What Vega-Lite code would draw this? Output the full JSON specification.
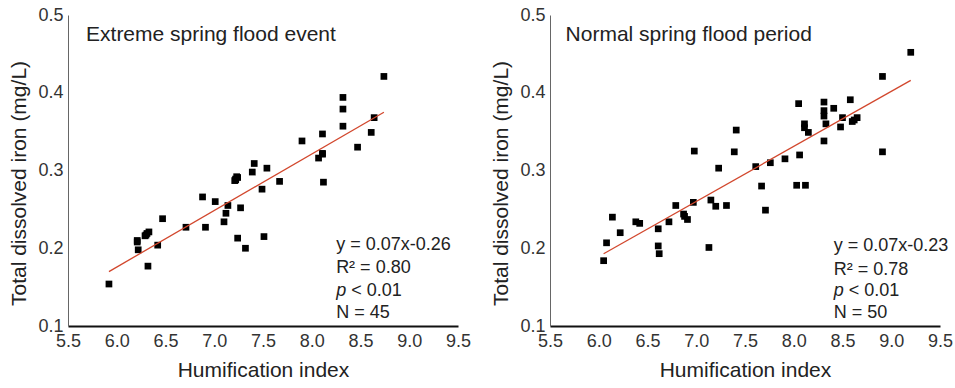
{
  "$schema": "https://vega.github.io/schema/vega-lite/v6.json",
  "padding": {"top": 6, "left": 8, "right": 5, "bottom": 4},
  "background": "white",
  "config": {
    "view": {"stroke": null},
    "font": "Liberation Sans",
    "concat": {"spacing": 92},
    "axis": {"grid": false, "ticks": false, "labelFontSize": 18, "labelColor": "#333333", "titleFontSize": 21, "titleFontWeight": "normal", "titleColor": "#222222", "labelFont": "Liberation Sans", "titleFont": "Liberation Sans"},
    "axisX": {"domainColor": "#111111", "domainWidth": 2, "labelFlush": false, "labelPadding": 6, "titlePadding": 9},
    "axisY": {"domainColor": "#666666", "domainWidth": 1, "labelPadding": 5, "titlePadding": 8, "titleY": 168}
  },
  "bounds": "flush",
  "datasets": {
    "extreme": [
      {"x": 5.92, "y": 0.154}, {"x": 6.21, "y": 0.210}, {"x": 6.22, "y": 0.198}, {"x": 6.29, "y": 0.216},
      {"x": 6.31, "y": 0.219}, {"x": 6.33, "y": 0.221}, {"x": 6.32, "y": 0.177}, {"x": 6.42, "y": 0.204},
      {"x": 6.47, "y": 0.238}, {"x": 6.71, "y": 0.227}, {"x": 6.88, "y": 0.266}, {"x": 6.91, "y": 0.227},
      {"x": 7.01, "y": 0.260}, {"x": 7.10, "y": 0.234}, {"x": 7.12, "y": 0.245}, {"x": 7.14, "y": 0.255},
      {"x": 7.24, "y": 0.213}, {"x": 7.27, "y": 0.252}, {"x": 7.21, "y": 0.287}, {"x": 7.22, "y": 0.289},
      {"x": 7.24, "y": 0.291}, {"x": 7.32, "y": 0.200}, {"x": 7.39, "y": 0.298}, {"x": 7.41, "y": 0.309},
      {"x": 7.49, "y": 0.276}, {"x": 7.51, "y": 0.215}, {"x": 7.54, "y": 0.303}, {"x": 7.67, "y": 0.286},
      {"x": 7.90, "y": 0.338}, {"x": 8.07, "y": 0.316}, {"x": 8.11, "y": 0.322}, {"x": 8.11, "y": 0.347},
      {"x": 8.12, "y": 0.285}, {"x": 8.32, "y": 0.394}, {"x": 8.32, "y": 0.379}, {"x": 8.32, "y": 0.357},
      {"x": 8.47, "y": 0.330}, {"x": 8.61, "y": 0.349}, {"x": 8.64, "y": 0.368}, {"x": 8.74, "y": 0.421},
      {"x": 6.30, "y": 0.217}, {"x": 7.22, "y": 0.288}, {"x": 7.23, "y": 0.292}, {"x": 8.11, "y": 0.321},
      {"x": 6.21, "y": 0.208}
    ],
    "normal": [
      {"x": 6.05, "y": 0.184}, {"x": 6.08, "y": 0.207}, {"x": 6.14, "y": 0.240}, {"x": 6.22, "y": 0.220},
      {"x": 6.38, "y": 0.234}, {"x": 6.42, "y": 0.232}, {"x": 6.61, "y": 0.225}, {"x": 6.61, "y": 0.203},
      {"x": 6.62, "y": 0.193}, {"x": 6.72, "y": 0.234}, {"x": 6.79, "y": 0.255}, {"x": 6.87, "y": 0.244},
      {"x": 6.88, "y": 0.241}, {"x": 6.91, "y": 0.237}, {"x": 6.97, "y": 0.259}, {"x": 6.98, "y": 0.325},
      {"x": 7.13, "y": 0.201}, {"x": 7.15, "y": 0.262}, {"x": 7.20, "y": 0.254}, {"x": 7.23, "y": 0.303},
      {"x": 7.31, "y": 0.255}, {"x": 7.39, "y": 0.324}, {"x": 7.41, "y": 0.352}, {"x": 7.61, "y": 0.305},
      {"x": 7.67, "y": 0.280}, {"x": 7.71, "y": 0.249}, {"x": 7.76, "y": 0.310}, {"x": 7.91, "y": 0.315},
      {"x": 8.03, "y": 0.281}, {"x": 8.05, "y": 0.386}, {"x": 8.06, "y": 0.320}, {"x": 8.11, "y": 0.360},
      {"x": 8.11, "y": 0.355}, {"x": 8.12, "y": 0.281}, {"x": 8.15, "y": 0.349}, {"x": 8.31, "y": 0.388},
      {"x": 8.31, "y": 0.377}, {"x": 8.31, "y": 0.370}, {"x": 8.33, "y": 0.360}, {"x": 8.31, "y": 0.338},
      {"x": 8.41, "y": 0.380}, {"x": 8.48, "y": 0.356}, {"x": 8.50, "y": 0.368}, {"x": 8.58, "y": 0.391},
      {"x": 8.60, "y": 0.363}, {"x": 8.65, "y": 0.368}, {"x": 8.91, "y": 0.421}, {"x": 8.91, "y": 0.324},
      {"x": 9.20, "y": 0.452}, {"x": 8.62, "y": 0.365}
    ],
    "extreme_fit": [{"x": 5.92, "y": 0.170}, {"x": 8.74, "y": 0.375}],
    "normal_fit": [{"x": 6.05, "y": 0.193}, {"x": 9.20, "y": 0.416}]
  },
  "hconcat": [
    {
      "width": 390, "height": 311,
      "layer": [
        {
          "data": {"name": "extreme"},
          "mark": {"type": "point", "shape": "square", "filled": true, "size": 45, "color": "#000000", "opacity": 1},
          "encoding": {
            "x": {"field": "x", "type": "quantitative", "title": "Humification index", "scale": {"domain": [5.5, 9.5], "nice": false, "zero": false}, "axis": {"values": [5.5, 6, 6.5, 7, 7.5, 8, 8.5, 9, 9.5], "format": ".1f"}},
            "y": {"field": "y", "type": "quantitative", "title": "Total dissolved iron (mg/L)", "scale": {"domain": [0.1, 0.5], "nice": false, "zero": false}, "axis": {"values": [0.1, 0.2, 0.3, 0.4, 0.5], "format": ".1f"}}
          }
        },
        {
          "data": {"name": "extreme_fit"},
          "mark": {"type": "line", "color": "#d2472d", "strokeWidth": 1.3},
          "encoding": {
            "x": {"field": "x", "type": "quantitative", "title": "Humification index"},
            "y": {"field": "y", "type": "quantitative", "title": "Total dissolved iron (mg/L)"}
          }
        },
        {
          "data": {"values": [{"t": "Extreme spring flood event"}]},
          "mark": {"type": "text", "align": "left", "baseline": "alphabetic", "fontSize": 21, "color": "#222222"},
          "encoding": {"x": {"datum": 5.685}, "y": {"datum": 0.466}, "text": {"field": "t"}}
        },
        {
          "data": {"values": [{"t": "y = 0.07x-0.26"}]},
          "mark": {"type": "text", "align": "left", "baseline": "alphabetic", "fontSize": 18, "color": "#222222"},
          "encoding": {"x": {"datum": 8.25}, "y": {"datum": 0.198}, "text": {"field": "t"}}
        },
        {
          "data": {"values": [{"t": "R² = 0.80"}]},
          "mark": {"type": "text", "align": "left", "baseline": "alphabetic", "fontSize": 18, "color": "#222222"},
          "encoding": {"x": {"datum": 8.25}, "y": {"datum": 0.168}, "text": {"field": "t"}}
        },
        {
          "data": {"values": [{"t": "p"}]},
          "mark": {"type": "text", "align": "left", "baseline": "alphabetic", "fontSize": 18, "fontStyle": "italic", "color": "#222222"},
          "encoding": {"x": {"datum": 8.25}, "y": {"datum": 0.139}, "text": {"field": "t"}}
        },
        {
          "data": {"values": [{"t": "< 0.01"}]},
          "mark": {"type": "text", "align": "left", "baseline": "alphabetic", "fontSize": 18, "dx": 15, "color": "#222222"},
          "encoding": {"x": {"datum": 8.25}, "y": {"datum": 0.139}, "text": {"field": "t"}}
        },
        {
          "data": {"values": [{"t": "N = 45"}]},
          "mark": {"type": "text", "align": "left", "baseline": "alphabetic", "fontSize": 18, "color": "#222222"},
          "encoding": {"x": {"datum": 8.25}, "y": {"datum": 0.110}, "text": {"field": "t"}}
        }
      ]
    },
    {
      "width": 390, "height": 311,
      "layer": [
        {
          "data": {"name": "normal"},
          "mark": {"type": "point", "shape": "square", "filled": true, "size": 45, "color": "#000000", "opacity": 1},
          "encoding": {
            "x": {"field": "x", "type": "quantitative", "title": "Humification index", "scale": {"domain": [5.5, 9.5], "nice": false, "zero": false}, "axis": {"values": [5.5, 6, 6.5, 7, 7.5, 8, 8.5, 9, 9.5], "format": ".1f"}},
            "y": {"field": "y", "type": "quantitative", "title": "Total dissolved iron (mg/L)", "scale": {"domain": [0.1, 0.5], "nice": false, "zero": false}, "axis": {"values": [0.1, 0.2, 0.3, 0.4, 0.5], "format": ".1f"}}
          }
        },
        {
          "data": {"name": "normal_fit"},
          "mark": {"type": "line", "color": "#d2472d", "strokeWidth": 1.3},
          "encoding": {
            "x": {"field": "x", "type": "quantitative", "title": "Humification index"},
            "y": {"field": "y", "type": "quantitative", "title": "Total dissolved iron (mg/L)"}
          }
        },
        {
          "data": {"values": [{"t": "Normal spring flood period"}]},
          "mark": {"type": "text", "align": "left", "baseline": "alphabetic", "fontSize": 21, "color": "#222222"},
          "encoding": {"x": {"datum": 5.66}, "y": {"datum": 0.467}, "text": {"field": "t"}}
        },
        {
          "data": {"values": [{"t": "y = 0.07x-0.23"}]},
          "mark": {"type": "text", "align": "left", "baseline": "alphabetic", "fontSize": 18, "color": "#222222"},
          "encoding": {"x": {"datum": 8.41}, "y": {"datum": 0.196}, "text": {"field": "t"}}
        },
        {
          "data": {"values": [{"t": "R² = 0.78"}]},
          "mark": {"type": "text", "align": "left", "baseline": "alphabetic", "fontSize": 18, "color": "#222222"},
          "encoding": {"x": {"datum": 8.41}, "y": {"datum": 0.166}, "text": {"field": "t"}}
        },
        {
          "data": {"values": [{"t": "p"}]},
          "mark": {"type": "text", "align": "left", "baseline": "alphabetic", "fontSize": 18, "fontStyle": "italic", "color": "#222222"},
          "encoding": {"x": {"datum": 8.41}, "y": {"datum": 0.138}, "text": {"field": "t"}}
        },
        {
          "data": {"values": [{"t": "< 0.01"}]},
          "mark": {"type": "text", "align": "left", "baseline": "alphabetic", "fontSize": 18, "dx": 15, "color": "#222222"},
          "encoding": {"x": {"datum": 8.41}, "y": {"datum": 0.138}, "text": {"field": "t"}}
        },
        {
          "data": {"values": [{"t": "N = 50"}]},
          "mark": {"type": "text", "align": "left", "baseline": "alphabetic", "fontSize": 18, "color": "#222222"},
          "encoding": {"x": {"datum": 8.41}, "y": {"datum": 0.110}, "text": {"field": "t"}}
        }
      ]
    }
  ]
}
